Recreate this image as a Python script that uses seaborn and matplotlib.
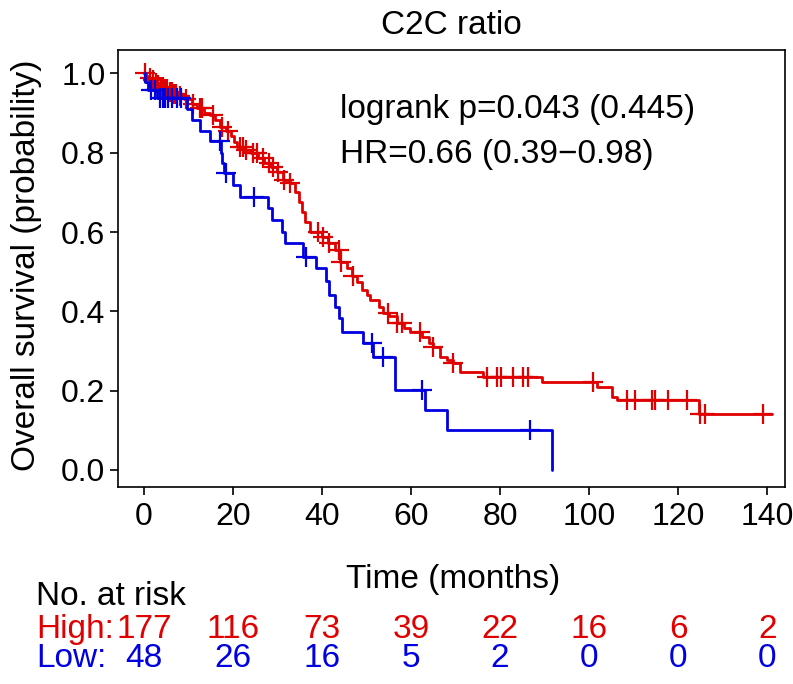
import numpy as np
import pandas as pd
import matplotlib
matplotlib.use("Agg")
import matplotlib.pyplot as plt
import matplotlib.transforms as mtransforms
import seaborn as sns

# ---------------- data ----------------
groups = ["High", "Low"]
colors = {"High": "#E00000", "Low": "#0000E0"}

high_t = [0, 0.5, 1, 1.5, 2.2, 3, 3.5, 4.5, 5.5, 6.5, 7.5, 9, 10.8, 12, 13.5, 14.8, 16, 17,
          18.5, 19.5, 20.3, 21, 22.5, 24, 25.5, 27, 28.5, 29.8, 31.3, 32.8, 34, 34.8, 35.4,
          36.2, 37.3, 40, 41.4, 43, 44, 45.5, 46.8, 47.8, 49, 50, 50.8, 52.7, 53.8, 55, 56.8,
          58.3, 59.8, 62.5, 64, 65, 66.5, 68, 69.5, 71, 76.2, 89.4, 101.7, 105.1, 106.2,
          124.6, 141]
high_s = [1.0, 0.994, 0.989, 0.983, 0.977, 0.971, 0.966, 0.960, 0.954, 0.948, 0.942, 0.936,
          0.924, 0.912, 0.900, 0.894, 0.882, 0.866, 0.855, 0.843, 0.828, 0.815, 0.808, 0.80,
          0.786, 0.773, 0.764, 0.752, 0.731, 0.723, 0.70, 0.676, 0.651, 0.625, 0.600, 0.588,
          0.572, 0.555, 0.525, 0.51, 0.49, 0.475, 0.455, 0.44, 0.429, 0.412, 0.395, 0.387,
          0.37, 0.357, 0.349, 0.336, 0.32, 0.311, 0.286, 0.278, 0.269, 0.248, 0.235, 0.223,
          0.21, 0.185, 0.177, 0.141, 0.141]
high_cens = [0.2, 1.3, 2, 2.6, 3.2, 3.8, 4.2, 4.8, 5.2, 5.8, 6.2, 6.8, 7.2, 8, 9.5, 11, 12.5,
             13, 15.5, 17.5, 18.8, 21.5, 22.2, 23, 24.5, 25.3, 26.8, 28, 29, 30.2, 31.5, 32.8,
             39.2, 40.3, 41.6, 43.7, 44.2, 47, 54.9, 56.8, 58, 62, 65, 69.5, 77, 79.4, 80.1,
             83, 85.2, 86.3, 100.8, 108.5, 110.3, 114.2, 114.8, 117.8, 122, 124.8, 126.1, 139]

low_t = [0, 0.3, 0.8, 3, 9.6, 10.7, 12.5, 14.8, 17.3, 17.6, 18, 20.1, 21.6, 27.9, 28.7, 30.9,
         31.7, 35.8, 38.6, 40.8, 41.5, 42.9, 43.7, 44.4, 49.1, 51.5, 56.4, 63.1, 68, 91.6]
low_s = [1.0, 0.979, 0.958, 0.937, 0.91, 0.883, 0.855, 0.83, 0.80, 0.775, 0.749, 0.719, 0.689,
         0.66, 0.63, 0.601, 0.572, 0.538, 0.509, 0.476, 0.441, 0.412, 0.383, 0.349, 0.32,
         0.284, 0.202, 0.151, 0.101, 0.0]
low_cens = [1.5, 2.5, 3.5, 4.2, 4.8, 5.5, 6.2, 7.5, 8.3, 17.1, 18.4, 24.6, 36.5, 51.2, 53.8,
            62.4, 86.7]

risk_times = [0, 20, 40, 60, 80, 100, 120, 140]
risk_high = [177, 116, 73, 39, 22, 16, 6, 2]
risk_low = [48, 26, 16, 5, 2, 0, 0, 0]

x_ticks = [0, 20, 40, 60, 80, 100, 120, 140]
y_ticks = [0.0, 0.2, 0.4, 0.6, 0.8, 1.0]

title = "C2C ratio"
stat_lines = ["logrank p=0.043 (0.445)", "HR=0.66 (0.39\u22120.98)"]

# ---------------- tables ----------------
curves = pd.concat([
    pd.DataFrame({"time": high_t, "surv": high_s, "group": "High"}),
    pd.DataFrame({"time": low_t, "surv": low_s, "group": "Low"}),
], ignore_index=True)


def surv_at(ts, ss, t):
    ts = np.asarray(ts)
    idx = np.searchsorted(ts, t, side="right") - 1
    return np.asarray(ss)[idx]


cens = pd.concat([
    pd.DataFrame({"time": high_cens, "surv": surv_at(high_t, high_s, high_cens), "group": "High"}),
    pd.DataFrame({"time": low_cens, "surv": surv_at(low_t, low_s, low_cens), "group": "Low"}),
], ignore_index=True)

# ---------------- plotting ----------------
sns.set_theme(style="ticks")
plt.rcParams["font.family"] = ["Liberation Sans", "DejaVu Sans"]
FS = 24
TFS = 23

fig = plt.figure(figsize=(7.93, 6.84), dpi=100)
ax = fig.add_axes([118 / 793, 1 - 487 / 684, (785 - 118) / 793, (487 - 50) / 684])

for g in groups:
    sub = curves[curves["group"] == g]
    sns.lineplot(data=sub, x="time", y="surv", color=colors[g], drawstyle="steps-post",
                 estimator=None, sort=False, linewidth=2.0, ax=ax, legend=False)
    csub = cens[cens["group"] == g]
    ax.plot(csub["time"], csub["surv"], linestyle="none", marker="+", markersize=14,
            markeredgewidth=1.6, color=colors[g])

ax.set_xlim(-5.84, 144.0)
ax.set_ylim(-0.043, 1.059)
ax.set_xticks(x_ticks)
ax.set_xticklabels([str(v) for v in x_ticks])
ax.set_yticks(y_ticks)
ax.set_yticklabels([f"{v:.1f}" for v in y_ticks])
ax.tick_params(axis="both", labelsize=TFS, length=6, width=1.2, color="black", labelcolor="black")
ax.tick_params(axis="x", pad=5)
ax.tick_params(axis="y", pad=3)
for sp in ax.spines.values():
    sp.set_visible(True)
    sp.set_color("black")
    sp.set_linewidth(1.2)

ax.set_xlabel("Time (months)", fontsize=FS, color="black")
ax.xaxis.label.set_va("baseline")
ax.xaxis.set_label_coords(0.502, (487 - 588) / 437)
ax.set_ylabel("Overall survival (probability)", fontsize=FS, color="black")
ax.yaxis.label.set_va("baseline")
ax.yaxis.set_label_coords((35 - 118) / 667, (487 - 265) / 437)

fig.text(451 / 793, 1 - 34 / 684, title, fontsize=FS, ha="center", va="baseline", color="black")

ax.text(44, 0.888, stat_lines[0], fontsize=FS, ha="left", va="baseline", color="black")
ax.text(44, 0.774, stat_lines[1], fontsize=FS, ha="left", va="baseline", color="black")

# risk table
trans = mtransforms.blended_transform_factory(ax.transData, fig.transFigure)
fig.text(36 / 793, 1 - 605 / 684, "No. at risk", fontsize=FS, ha="left", va="baseline", color="black")
fig.text(36 / 793, 1 - 638 / 684, "High:", fontsize=FS, ha="left", va="baseline", color=colors["High"])
fig.text(36 / 793, 1 - 667 / 684, "Low:", fontsize=FS, ha="left", va="baseline", color=colors["Low"])
for t, nh, nl in zip(risk_times, risk_high, risk_low):
    ax.text(t, 1 - 638 / 684, str(nh), transform=trans, fontsize=FS, ha="center", va="baseline",
            color=colors["High"], clip_on=False)
    ax.text(t, 1 - 667 / 684, str(nl), transform=trans, fontsize=FS, ha="center", va="baseline",
            color=colors["Low"], clip_on=False)

fig.savefig("out.png", dpi=100, facecolor="white")
